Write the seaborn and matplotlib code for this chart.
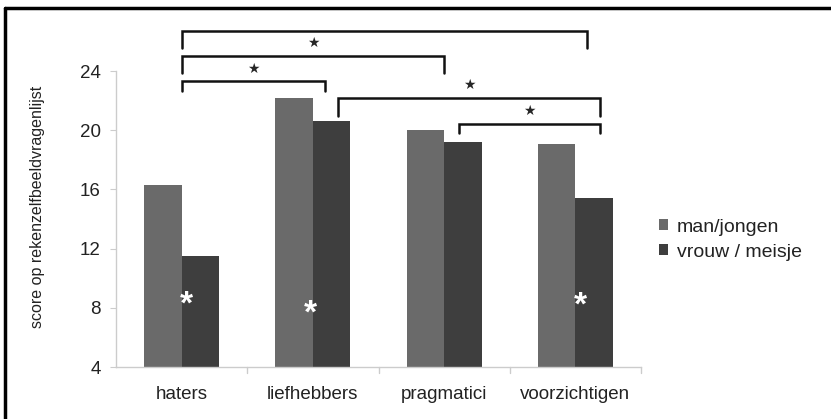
import seaborn as sns
import pandas as pd
import matplotlib.pyplot as plt
from matplotlib.lines import Line2D

# 数据
categories = ["haters", "liefhebbers", "pragmatici", "voorzichtigen"]
groups = ["man/jongen", "vrouw / meisje"]
man_scores = [16.3, 22.2, 20.0, 19.1]
vrouw_scores = [11.5, 20.6, 19.2, 15.4]
colors = ["#6a6a6a", "#3e3e3e"]
y_ticks = [4, 8, 12, 16, 20, 24]

# significantie-haken: (links, rechts, hoogte lijn, hoogte uiteinde, ster?)
brackets = [
    (0.0, 3.09, 26.7, 25.55, False),
    (0.0, 2.0, 25.0, 23.85, True),
    (0.0, 1.09, 23.3, 22.65, True),
    (1.19, 3.19, 22.2, 20.95, True),
    (2.11, 3.19, 20.4, 19.8, True),
]
# witte sterren in de balken
white_stars = [(0.04, 8.2), (0.98, 7.6), (3.04, 8.15)]

df = pd.DataFrame({
    "categorie": categories * 2,
    "groep": [groups[0]] * 4 + [groups[1]] * 4,
    "score": man_scores + vrouw_scores,
})

sns.set_style("white")
plt.rcParams['font.family'] = ['Liberation Sans', 'DejaVu Sans']

fig = plt.figure(figsize=(8.31, 4.19), dpi=100)
ax = fig.add_axes([0.1396, 0.1241, 0.6318, 0.7064])

sns.barplot(data=df, x="categorie", y="score", hue="groep", palette=colors,
            width=0.57, saturation=1, linewidth=0, ax=ax, legend=True)
ax.set_ylim(4, 24)
ax.set_xlim(-0.5, 3.5)
ax.set_yticks(y_ticks)
ax.tick_params(axis="y", labelsize=13.5, length=4, color="#cccccc", left=True,
               pad=7, labelcolor="#222222")
ax.tick_params(axis="x", labelsize=13.5, length=0, pad=14, labelcolor="#222222")
ax.set_xlabel("")
ax.set_ylabel("score op rekenzelfbeeldvragenlijst", fontsize=11.5, color="#222222")
ax.yaxis.set_label_coords(-0.135, 0.54)
for s in ["top", "right"]:
    ax.spines[s].set_visible(False)
for s in ["left", "bottom"]:
    ax.spines[s].set_color("#cccccc")
    ax.spines[s].set_linewidth(1)
# scheidingsstreepjes op de x-as
for xs in [0.5, 1.5, 2.5, 3.5]:
    ax.plot([xs, xs], [4, 3.6], color="#cccccc", lw=1, clip_on=False)

# haken en sterren
for x1, x2, yl, yb, star in brackets:
    ax.plot([x1, x1, x2, x2], [yb, yl, yl, yb], color="#111111", lw=1.8,
            clip_on=False, solid_joinstyle="miter")
    if star:
        ax.text((x1 + x2) / 2, yl + 0.4, "★", ha="center", va="bottom",
                fontsize=10, family="DejaVu Sans", clip_on=False)

for x, y in white_stars:
    ax.text(x, y, "*", color="white", ha="center", va="center",
            fontsize=24, fontweight="bold")

leg = ax.legend(loc="upper left", bbox_to_anchor=(1.0, 0.56), frameon=False,
                fontsize=14, handlelength=0.5, handleheight=0.5,
                handletextpad=0.45, labelspacing=0.4)
for t in leg.get_texts():
    t.set_color("#222222")

# rand van de afbeelding
fig.add_artist(Line2D([0.006, 1.0], [0.982, 0.982], color="black", lw=2.5,
                      transform=fig.transFigure))
fig.add_artist(Line2D([0.006, 0.006], [0.0, 0.982], color="black", lw=2.5,
                      transform=fig.transFigure))

plt.savefig("out.png", dpi=100)
